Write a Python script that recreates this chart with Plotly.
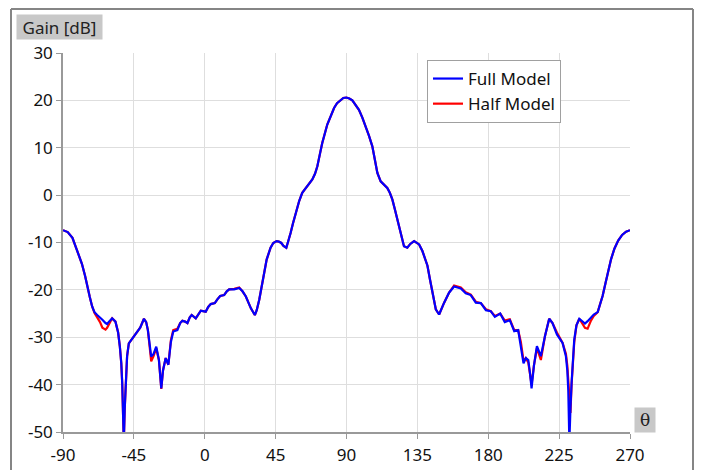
import plotly.graph_objects as go

theta = [-90, -87, -84, -81, -78, -76, -74.7, -73, -71.5, -70, -68.3, -66.5, -65, -63, -62, -60.5,
         -58.8, -56.7, -55, -53.9, -53, -52.4, -51.8, -51.4, -50.8, -50.3, -49.3, -48.2, -46, -43.9,
         -41, -38.6, -37.2, -36.1, -35, -34, -32.5, -30.8, -29.1, -28.2, -27.6, -26.5, -24.8, -23.1,
         -21.5, -20, -17.4, -15.6, -14.2, -12.5, -11, -9.5, -8.3, -5.7, -4, -2.5, 0.6, 2.2, 3.8, 6.4,
         8, 9.8, 12.3, 14, 15.5, 18.7, 21.9, 24, 26.1, 28, 29.3, 31.8, 33, 34.6, 36, 37.8, 39.3, 41.8,
         43.5, 45.6, 47, 48.6, 50, 51.8, 53, 54.5, 56, 57.7, 60, 61.9, 65.1, 68.3, 70, 71.5, 73, 74.6,
         77.8, 80, 82.1, 84, 86.3, 88, 89.9, 91.8, 93.7, 95.8, 97.9, 100, 102.2, 104.3, 106.4, 108,
         109.6, 111.7, 113.8, 115.9, 117.5, 119.1, 120.7, 122.3, 124.4, 126.5, 128.6, 130.5, 132.9,
         134.5, 136.1, 138.2, 140.3, 141.4, 143, 144.5, 146.7, 148.8, 150.3, 152, 155.1, 158.3, 162.6,
         165.7, 168.9, 172.1, 175.3, 178.5, 181.6, 184.2, 187.6, 190.5, 193.7, 196.5, 199, 200.7, 202.4,
         203.9, 205.4, 206.5, 207.5, 209, 210.9, 213.4, 214.6, 216, 218.7, 220.8, 223.6, 225.5, 227.2,
         229.3, 230.2, 230.8, 231.5, 232.2, 232.9, 234.6, 236, 237.8, 239.5, 241.4, 243.1, 245.2, 247,
         249.5, 251, 252.6, 254.5, 256.3, 258, 260.1, 262.5, 265, 267.5, 270]

full_model = [-7.4, -7.8, -9.0, -11.6, -14.5, -17.0, -19.3, -21.5, -23.5, -24.7, -25.3, -25.8, -26.3, -27.0, -27.2, -26.6,
              -26.0, -26.7, -29.0, -32.0, -35.5, -39.7, -46.0, -52.0, -45.0, -40.4, -34.0, -31.3, -30.3, -29.5,
              -28.0, -26.1, -26.8, -28.5, -31.5, -34.1, -33.5, -32.0, -34.8, -38.0, -40.8, -37.0, -34.4, -35.8,
              -31.0, -28.8, -28.5, -27.0, -26.5, -26.7, -27.0, -25.8, -25.3, -26.0, -25.0, -24.4, -24.6, -23.6, -23.0, -22.8,
              -22.0, -21.3, -21.1, -20.3, -19.9, -19.9, -19.6, -20.3, -21.4, -23.0, -23.9, -25.3, -24.3, -22.1, -19.5, -16.5, -13.6, -11.1,
              -10.1, -9.7, -9.8, -10.1, -10.7, -11.1, -9.8, -8.0, -6.0, -3.8, -1.2, 0.5, 1.9, 3.3, 4.5, 6.1, 8.5, 11.0,
              14.9, 16.7, 18.4, 19.4, 20.1, 20.5, 20.6, 20.4, 20.0, 19.1, 18.0, 16.4, 14.5, 12.5, 10.3, 7.5,
              4.7, 2.9, 2.2, 1.5, 0.5, -0.9, -3.0, -5.2, -8.0, -10.8, -11.1, -10.3, -9.7,
              -10.1, -10.4, -11.8, -13.6, -14.9, -17.8, -20.6, -24.1, -25.2, -24.0, -22.7, -20.6, -19.3, -19.7,
              -20.7, -21.1, -22.7, -22.8, -24.3, -24.5, -25.7, -25.0, -26.8, -26.4, -28.7, -28.5, -31.6, -35.5,
              -34.4, -34.8, -37.5, -40.8, -36.0, -31.9, -34.0, -32.0, -29.8, -26.1, -27.0, -29.4, -30.3, -31.2,
              -34.0, -37.0, -41.1, -52.0, -45.0, -39.7, -30.5, -27.5, -26.1, -26.6, -27.1, -26.6, -25.9, -25.2,
              -24.7, -23.0, -21.3, -18.5, -15.6, -13.5, -11.3, -9.6, -8.4, -7.7, -7.4]

half_model = [-7.4, -7.8, -9.0, -11.6, -14.5, -17.0, -19.3, -21.5, -23.5, -24.9, -25.8, -26.8, -28.0, -28.4, -28.0, -27.0,
              -26.0, -26.7, -29.0, -32.0, -35.5, -39.7, -46.0, -52.0, -45.0, -40.4, -34.0, -31.3, -30.3, -29.5,
              -28.0, -26.1, -26.8, -28.5, -32.0, -35.1, -34.0, -32.3, -34.8, -38.0, -40.9, -37.0, -34.4, -35.8,
              -30.6, -28.5, -28.2, -27.0, -26.5, -26.7, -27.0, -25.8, -25.3, -26.0, -25.0, -24.4, -24.6, -23.6, -23.0, -22.8,
              -22.0, -21.3, -21.1, -20.3, -19.9, -19.8, -19.5, -20.3, -21.4, -23.0, -23.9, -25.3, -24.3, -22.1, -19.5, -16.5, -13.6, -11.1,
              -10.1, -9.7, -9.8, -10.1, -10.7, -11.1, -9.8, -8.0, -6.0, -3.8, -1.2, 0.5, 1.9, 3.3, 4.5, 6.1, 8.5, 11.0,
              14.9, 16.7, 18.4, 19.4, 20.1, 20.5, 20.6, 20.4, 20.0, 19.1, 18.0, 16.4, 14.5, 12.5, 10.3, 7.5,
              4.7, 2.9, 2.2, 1.5, 0.5, -0.9, -3.0, -5.2, -8.0, -10.8, -11.1, -10.3, -9.7,
              -10.1, -10.4, -11.8, -13.6, -14.9, -17.8, -20.6, -24.1, -25.2, -24.0, -22.7, -20.6, -19.1, -19.5,
              -20.5, -21.0, -22.5, -22.8, -24.1, -24.5, -25.5, -25.0, -26.5, -26.2, -28.5, -28.5, -31.0, -35.0,
              -34.4, -35.3, -37.5, -40.0, -36.0, -32.3, -34.8, -32.5, -29.8, -26.1, -27.0, -29.0, -30.3, -31.2,
              -33.5, -36.0, -39.0, -44.0, -46.0, -40.0, -31.0, -27.5, -26.1, -27.0, -28.0, -28.2, -26.5, -25.5,
              -24.7, -23.0, -21.3, -18.5, -15.6, -13.5, -11.3, -9.6, -8.4, -7.7, -7.4]

x_ticks = [-90, -45, 0, 45, 90, 135, 180, 225, 270]
y_ticks = [-50, -40, -30, -20, -10, 0, 10, 20, 30]

fig = go.Figure()
fig.add_trace(go.Scatter(x=theta, y=half_model, mode="lines", name="Half Model",
                         line=dict(color="#ff0000", width=2.2), legendrank=2))
fig.add_trace(go.Scatter(x=theta, y=full_model, mode="lines", name="Full Model",
                         line=dict(color="#0000ff", width=2.2), legendrank=1))

OFF = 8  # page body margin
L, R, T, B = 63 - OFF, 630 - OFF, 53 - OFF, 432 - OFF
W, H = 702 - OFF, 470 - OFF

def px(x):
    return (x - OFF - L) / (R - L)

def py(y):
    return (B - (y - OFF)) / (B - T)

frame = dict(color="#858585", width=2)
fx0, fx1, fy0, fy1 = px(11), px(693), py(470), py(9)
shapes = [
    dict(type="line", xref="paper", yref="paper", x0=fx0, x1=fx0, y0=fy0, y1=fy1, line=frame, layer="above"),
    dict(type="line", xref="paper", yref="paper", x0=fx1, x1=fx1, y0=fy0, y1=fy1, line=frame, layer="above"),
    dict(type="line", xref="paper", yref="paper", x0=fx0, x1=fx1, y0=fy1, y1=fy1, line=frame, layer="above"),
]

fig.update_layout(
    width=W, height=H,
    margin=dict(l=L, r=W - R, t=T, b=H - B, autoexpand=False),
    paper_bgcolor="white", plot_bgcolor="white",
    font=dict(family="Noto Sans, Open Sans, sans-serif", size=17, color="#111111"),
    showlegend=True,
    legend=dict(x=px(427), y=py(60), xanchor="left", yanchor="top",
                bgcolor="white", bordercolor="#a0a0a0", borderwidth=1,
                font=dict(size=17), tracegroupgap=0),
    xaxis=dict(range=[-90, 270], tickmode="array", tickvals=x_ticks,
               ticktext=[str(v) for v in x_ticks],
               showgrid=True, gridcolor="#dedede", gridwidth=1,
               showline=True, linecolor="#999999", linewidth=1.5,
               ticks="outside", ticklen=5, tickcolor="#999999",
               ticklabelstandoff=2, automargin=False,
               zeroline=False, fixedrange=True),
    yaxis=dict(range=[-50, 30], tickmode="array", tickvals=y_ticks,
               ticktext=[str(v) for v in y_ticks],
               showgrid=True, gridcolor="#dedede", gridwidth=1,
               showline=True, linecolor="#999999", linewidth=1.5,
               ticks="outside", ticklen=5, tickcolor="#999999",
               automargin=False,
               zeroline=False, fixedrange=True),
    shapes=shapes,
    annotations=[
        dict(text="Gain [dB]", xref="paper", yref="paper", x=px(16), y=py(14),
             xanchor="left", yanchor="top", showarrow=False, bgcolor="#c8c8c8",
             width=83, height=22, align="center", valign="middle",
             font=dict(size=17, color="#222222"), borderpad=1),
        dict(text="θ", xref="paper", yref="paper", x=px(634), y=py(407),
             xanchor="left", yanchor="top", showarrow=False, bgcolor="#c8c8c8",
             width=18, height=22, align="center", valign="middle",
             font=dict(size=17, color="#222222", family="DejaVu Serif, Liberation Serif, serif"), borderpad=1),
    ],
)

fig.write_html("out.html")
